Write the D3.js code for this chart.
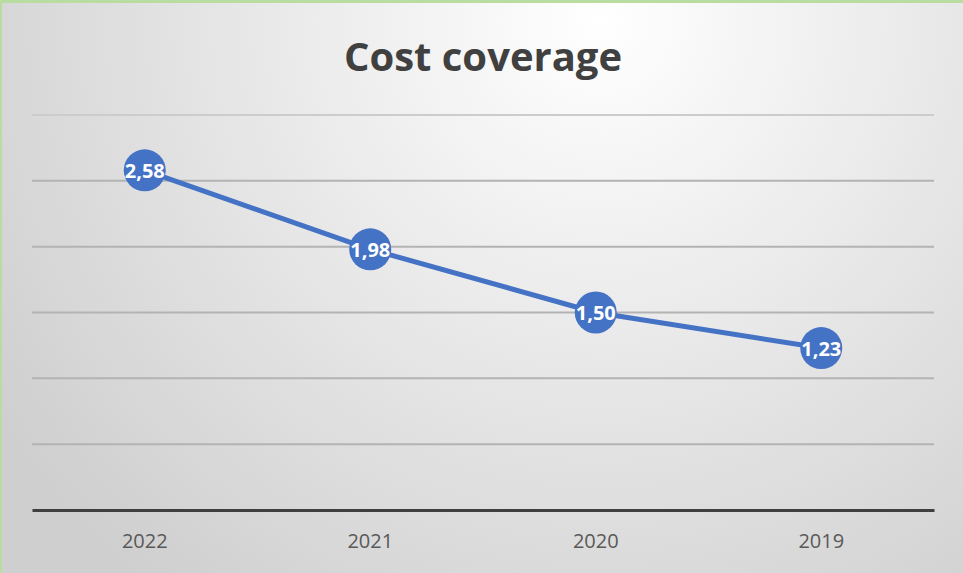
<!DOCTYPE html>
<html><head><meta charset="utf-8">
<script src="https://cdn.jsdelivr.net/npm/d3@7"></script>
<style>html,body{margin:0;padding:0;background:#fff;}svg{display:block;}</style>
</head><body>
<script>
const categories = ["2022","2021","2020","2019"];
const values = [2.58, 1.98, 1.50, 1.23];
const labels = ["2,58","1,98","1,50","1,23"];
const yTicks = [0, 0.5, 1, 1.5, 2, 2.5, 3];
const title = "Cost coverage";

const W = 963, H = 573;
const svg = d3.select("body").append("svg").attr("width", W).attr("height", H);
const defs = svg.append("defs");
const rg = defs.append("radialGradient").attr("id","bg")
  .attr("gradientUnits","userSpaceOnUse").attr("cx",600).attr("cy",20).attr("r",720);
rg.append("stop").attr("offset","0%").attr("stop-color","#ffffff");
rg.append("stop").attr("offset","100%").attr("stop-color","#cfcfcf");
svg.append("rect").attr("width",W).attr("height",H).attr("fill","url(#bg)");
svg.append("rect").attr("x",0).attr("y",0).attr("width",W).attr("height",3).attr("fill","#b9dca0");
svg.append("rect").attr("x",0).attr("y",0).attr("width",2).attr("height",H).attr("fill","#b9dca0");

const x = d3.scaleBand().domain(categories).range([32, 934]);
const y = d3.scaleLinear().domain([0, 3]).range([510, 115]);

svg.append("text").attr("x", 483).attr("y", 71).attr("text-anchor","middle")
  .attr("font-family","'Open Sans','Noto Sans',sans-serif").attr("font-weight","bold")
  .attr("font-size",40).attr("fill","#404040").text(title);

const grid = svg.append("g");
grid.selectAll("line").data(yTicks.filter(d=>d>0)).join("line")
  .attr("x1",32).attr("x2",934).attr("y1",d=>y(d)).attr("y2",d=>y(d))
  .attr("stroke",d=>d===3?"#cccccc":"#b3b3b3").attr("stroke-width",2);

const xAxis = svg.append("g").attr("transform",`translate(0,${y(0)})`)
  .call(d3.axisBottom(x).tickSize(0).tickPadding(24));
xAxis.select(".domain").attr("stroke","#3f3f3f").attr("stroke-width",3);
xAxis.selectAll("text").attr("font-family","'Open Sans','Noto Sans',sans-serif")
  .attr("font-size",20).attr("fill","#595959");

const line = d3.line().x((d,i)=>x(categories[i])+x.bandwidth()/2).y(d=>y(d));
svg.append("path").datum(values).attr("d",line).attr("fill","none")
  .attr("stroke","#4472c4").attr("stroke-width",5).attr("stroke-linejoin","round");

const pts = svg.append("g").selectAll("g").data(values).join("g")
  .attr("transform",(d,i)=>`translate(${x(categories[i])+x.bandwidth()/2},${y(d)})`);
pts.append("circle").attr("r",21).attr("fill","#4472c4");
pts.append("text").attr("text-anchor","middle").attr("dy","0.38em")
  .attr("font-family","'Open Sans','Noto Sans',sans-serif").attr("font-weight","bold")
  .attr("font-size",20).attr("fill","#ffffff").text((d,i)=>labels[i]);
</script>
</body></html>
